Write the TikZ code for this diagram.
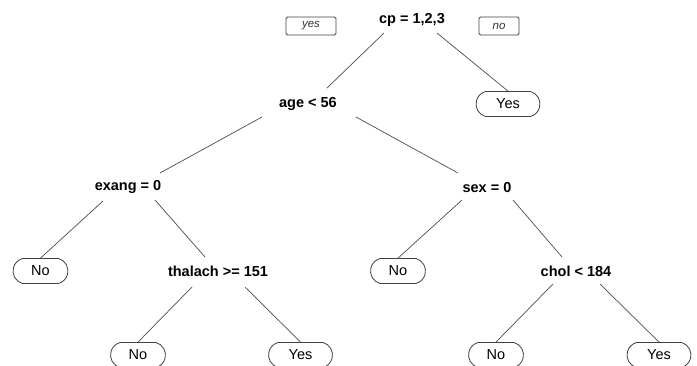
\documentclass[tikz,border=0pt]{standalone}
\usepackage{fontspec}
\setmainfont{Liberation Sans}
\usetikzlibrary{shapes.misc}
\begin{document}
\begin{tikzpicture}[x=1pt,y=-1pt,
  split/.style={font=\fontsize{14.5}{16}\selectfont\bfseries, inner sep=0pt},
  leafbox/.style={rounded rectangle, rounded rectangle arc length=150, draw=black!75, line width=0.8pt, minimum height=25pt, inner sep=0pt, font=\fontsize{14.5}{16}\selectfont},
  leafno/.style={leafbox, minimum width=55pt},
  leafyes/.style={leafbox, minimum width=64pt},
  tag/.style={draw=black!75, line width=0.8pt, rounded corners=1.5pt, minimum height=18pt, inner sep=0pt, font=\fontsize{11.5}{13}\selectfont\itshape, text=black!80},
  branch/.style={draw=black!70, line width=0.7pt}]
\useasboundingbox (0,0) rectangle (697,365);
% split nodes
\node[split] (cp) at (412,20) {cp = 1,2,3};
\node[split] (age) at (308,104) {age < 56};
\node[split] (exang) at (128,187) {exang = 0};
\node[split] (sex) at (487,188) {sex = 0};
\node[split] (thal) at (218,271) {thalach >= 151};
\node[split] (chol) at (576,271) {chol < 184};
% yes/no tags
\node[tag, minimum width=50pt] (yes) at (311,26) {yes};
\node[tag, minimum width=40pt] (no) at (499,26) {no};
% leaves
\node[leafyes] (l1) at (508,104) {Yes};
\node[leafno] (l2) at (40.5,271) {No};
\node[leafno] (l3) at (138,355) {No};
\node[leafyes] (l4) at (300.5,355) {Yes};
\node[leafno] (l5) at (398,271) {No};
\node[leafno] (l6) at (496,355) {No};
\node[leafyes] (l7) at (659,355) {Yes};
% branches
\draw[branch] ([shift={(-28,13)}]cp.center) -- ([shift={(19,-16)}]age.center);
\draw[branch] ([shift={(25,13)}]cp.center) -- (l1.north);
\draw[branch] ([shift={(-46,13)}]age.center) -- ([shift={(32,-14)}]exang.center);
\draw[branch] ([shift={(48,13)}]age.center) -- ([shift={(-29,-15)}]sex.center);
\draw[branch] ([shift={(-25,14)}]exang.center) -- (l2.north);
\draw[branch] ([shift={(27,13)}]exang.center) -- ([shift={(-13,-14)}]thal.center);
\draw[branch] ([shift={(-25,12)}]sex.center) -- (l5.north);
\draw[branch] ([shift={(26,12)}]sex.center) -- ([shift={(-14,-14)}]chol.center);
\draw[branch] ([shift={(-26,16)}]thal.center) -- (l3.north);
\draw[branch] ([shift={(27,16)}]thal.center) -- (l4.north);
\draw[branch] ([shift={(-23,13)}]chol.center) -- (l6.north);
\draw[branch] ([shift={(24,13)}]chol.center) -- (l7.north);
\end{tikzpicture}
\end{document}
